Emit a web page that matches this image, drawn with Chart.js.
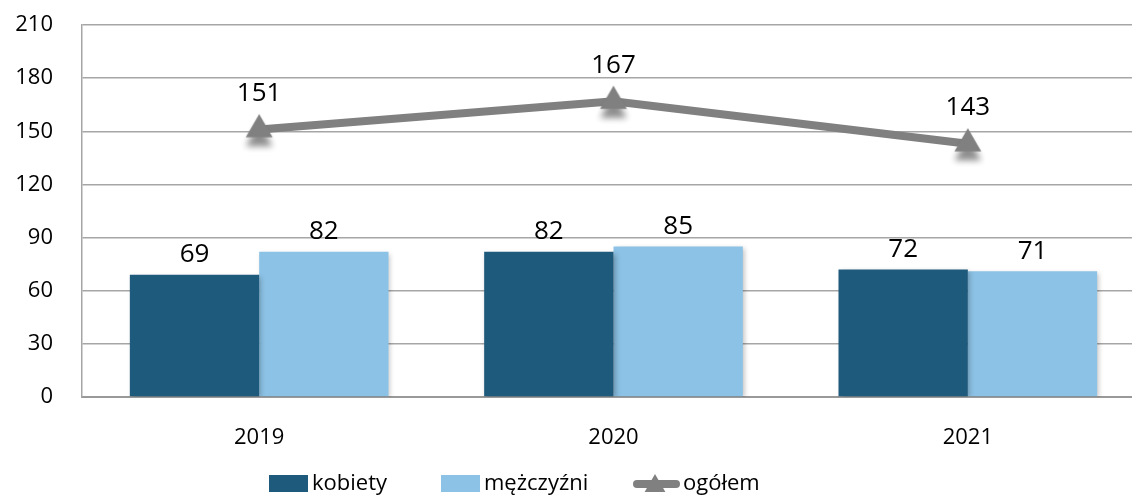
<!DOCTYPE html>
<html lang="pl">
<head>
<meta charset="utf-8">
<title>kobiety / mężczyźni / ogółem</title>
<script src="https://cdn.jsdelivr.net/npm/chart.js@4.4.1/dist/chart.umd.min.js"></script>
<style>
    html, body { margin: 0; padding: 0; background: #fff; overflow: hidden; }
    .chart-box { width: 1168px; height: 504px; }
</style>
</head>
<body>
<div class="chart-box"><canvas id="genderChart"></canvas></div>
<script>
// Data
const years = ['2019', '2020', '2021'];
const kobiety = [69, 82, 72];
const mezczyzni = [82, 85, 71];
const ogolem = [151, 167, 143];
const yTicks = [0, 30, 60, 90, 120, 150, 180, 210];

const FONT = '"Open Sans", "Noto Sans", sans-serif';
const DARK_BLUE = '#1E5A7C';
const LIGHT_BLUE = '#8CC2E5';
const GREY = '#808080';

// left edge of each legend entry
const legendX = [269, 441, 633];

function trianglePath(ctx, cx, cy, r) {
    ctx.beginPath();
    for (let i = 0; i < 3; i++) {
        const a = i * 2 * Math.PI / 3;
        const px = cx + Math.sin(a) * r;
        const py = cy - Math.cos(a) * r;
        if (i === 0) ctx.moveTo(px, py); else ctx.lineTo(px, py);
    }
    ctx.closePath();
}

// Triangle marker with a soft shadow underneath, used as the point style
function makeMarker() {
    const c = document.createElement('canvas');
    c.width = 44;
    c.height = 70;
    const ctx = c.getContext('2d');
    ctx.shadowColor = 'rgba(0, 0, 0, 0.45)';
    ctx.shadowBlur = 6;
    ctx.shadowOffsetY = 9;
    ctx.fillStyle = GREY;
    trianglePath(ctx, 22, 35, 15.5);
    ctx.fill();
    return c;
}
const marker = makeMarker();

// Soft shadow behind the bars
const barShadow = {
    id: 'barShadow',
    beforeDatasetDraw(chart, args) {
        if (args.meta.type !== 'bar') return;
        const ctx = chart.ctx;
        ctx.save();
        ctx.shadowColor = 'rgba(0, 0, 0, 0.25)';
        ctx.shadowBlur = 5;
        ctx.shadowOffsetX = 2;
        ctx.shadowOffsetY = 2;
    },
    afterDatasetDraw(chart, args) {
        if (args.meta.type !== 'bar') return;
        chart.ctx.restore();
    }
};

// Value labels above bars and line points
const valueLabels = {
    id: 'valueLabels',
    afterDatasetsDraw(chart) {
        const ctx = chart.ctx;
        ctx.save();
        ctx.fillStyle = '#000';
        ctx.font = '26px ' + FONT;
        ctx.textAlign = 'center';
        ctx.textBaseline = 'bottom';
        chart.data.datasets.forEach((ds, i) => {
            const meta = chart.getDatasetMeta(i);
            const offset = meta.type === 'line' ? 23 : 7;
            meta.data.forEach((el, j) => {
                ctx.fillText(String(ds.data[j]), el.x, el.y - offset);
            });
        });
        ctx.restore();
    }
};

// Legend row under the axis
const bottomLegend = {
    id: 'bottomLegend',
    afterDraw(chart) {
        const ctx = chart.ctx;
        ctx.save();
        ctx.font = '22px ' + FONT;
        ctx.textBaseline = 'middle';
        const y = 484;
        chart.data.datasets.forEach((ds, i) => {
            let x = legendX[i];
            if (ds.type === 'line') {
                ctx.strokeStyle = ds.borderColor;
                ctx.lineWidth = 8;
                ctx.lineCap = 'round';
                ctx.beginPath();
                ctx.moveTo(x + 4, y);
                ctx.lineTo(x + 43, y);
                ctx.stroke();
                ctx.fillStyle = ds.borderColor;
                trianglePath(ctx, x + 22, y + 2, 12);
                ctx.fill();
                x += 50;
            } else {
                ctx.fillStyle = ds.backgroundColor;
                ctx.fillRect(x, y - 9, 39, 17);
                x += 43;
            }
            ctx.fillStyle = '#000';
            ctx.fillText(ds.label, x, y);
        });
        ctx.restore();
    }
};

document.addEventListener('DOMContentLoaded', function () {
    const el = document.getElementById('genderChart');
    new Chart(el, {
        data: {
            labels: years,
            datasets: [
                {
                    type: 'bar',
                    label: 'kobiety',
                    data: kobiety,
                    backgroundColor: DARK_BLUE,
                    order: 1
                },
                {
                    type: 'bar',
                    label: 'mężczyźni',
                    data: mezczyzni,
                    backgroundColor: LIGHT_BLUE,
                    order: 1
                },
                {
                    type: 'line',
                    label: 'ogółem',
                    data: ogolem,
                    borderColor: GREY,
                    borderWidth: 8,
                    pointStyle: marker,
                    pointRadius: 15,
                    tension: 0,
                    order: 0
                }
            ]
        },
        options: {
            responsive: true,
            maintainAspectRatio: false,
            animation: false,
            datasets: {
                bar: { barPercentage: 1, categoryPercentage: 0.73 }
            },
            layout: { padding: { top: 25, bottom: 60, left: 0, right: 0 } },
            plugins: {
                legend: { display: false },
                tooltip: { enabled: false }
            },
            scales: {
                x: {
                    grid: { display: false },
                    border: { display: true, color: '#999', width: 2 },
                    ticks: { color: '#000', font: { family: FONT, size: 22 }, padding: 20 },
                    afterFit(scale) {
                        scale.height = 47;
                        scale.paddingLeft = 0;
                        scale.paddingRight = 0;
                    }
                },
                y: {
                    min: 0,
                    max: 210,
                    afterBuildTicks(scale) { scale.ticks = yTicks.map(v => ({ value: v })); },
                    grid: { color: '#A6A6A6', lineWidth: 1.5, drawTicks: false },
                    border: { display: true, color: '#A6A6A6', width: 1.5 },
                    ticks: { color: '#000', font: { family: FONT, size: 22 }, padding: 29 },
                    afterFit(scale) {
                        scale.width = 82;
                        scale.paddingTop = 0;
                        scale.paddingBottom = 0;
                    }
                }
            }
        },
        plugins: [barShadow, valueLabels, bottomLegend]
    });
});
</script>
</body>
</html>
